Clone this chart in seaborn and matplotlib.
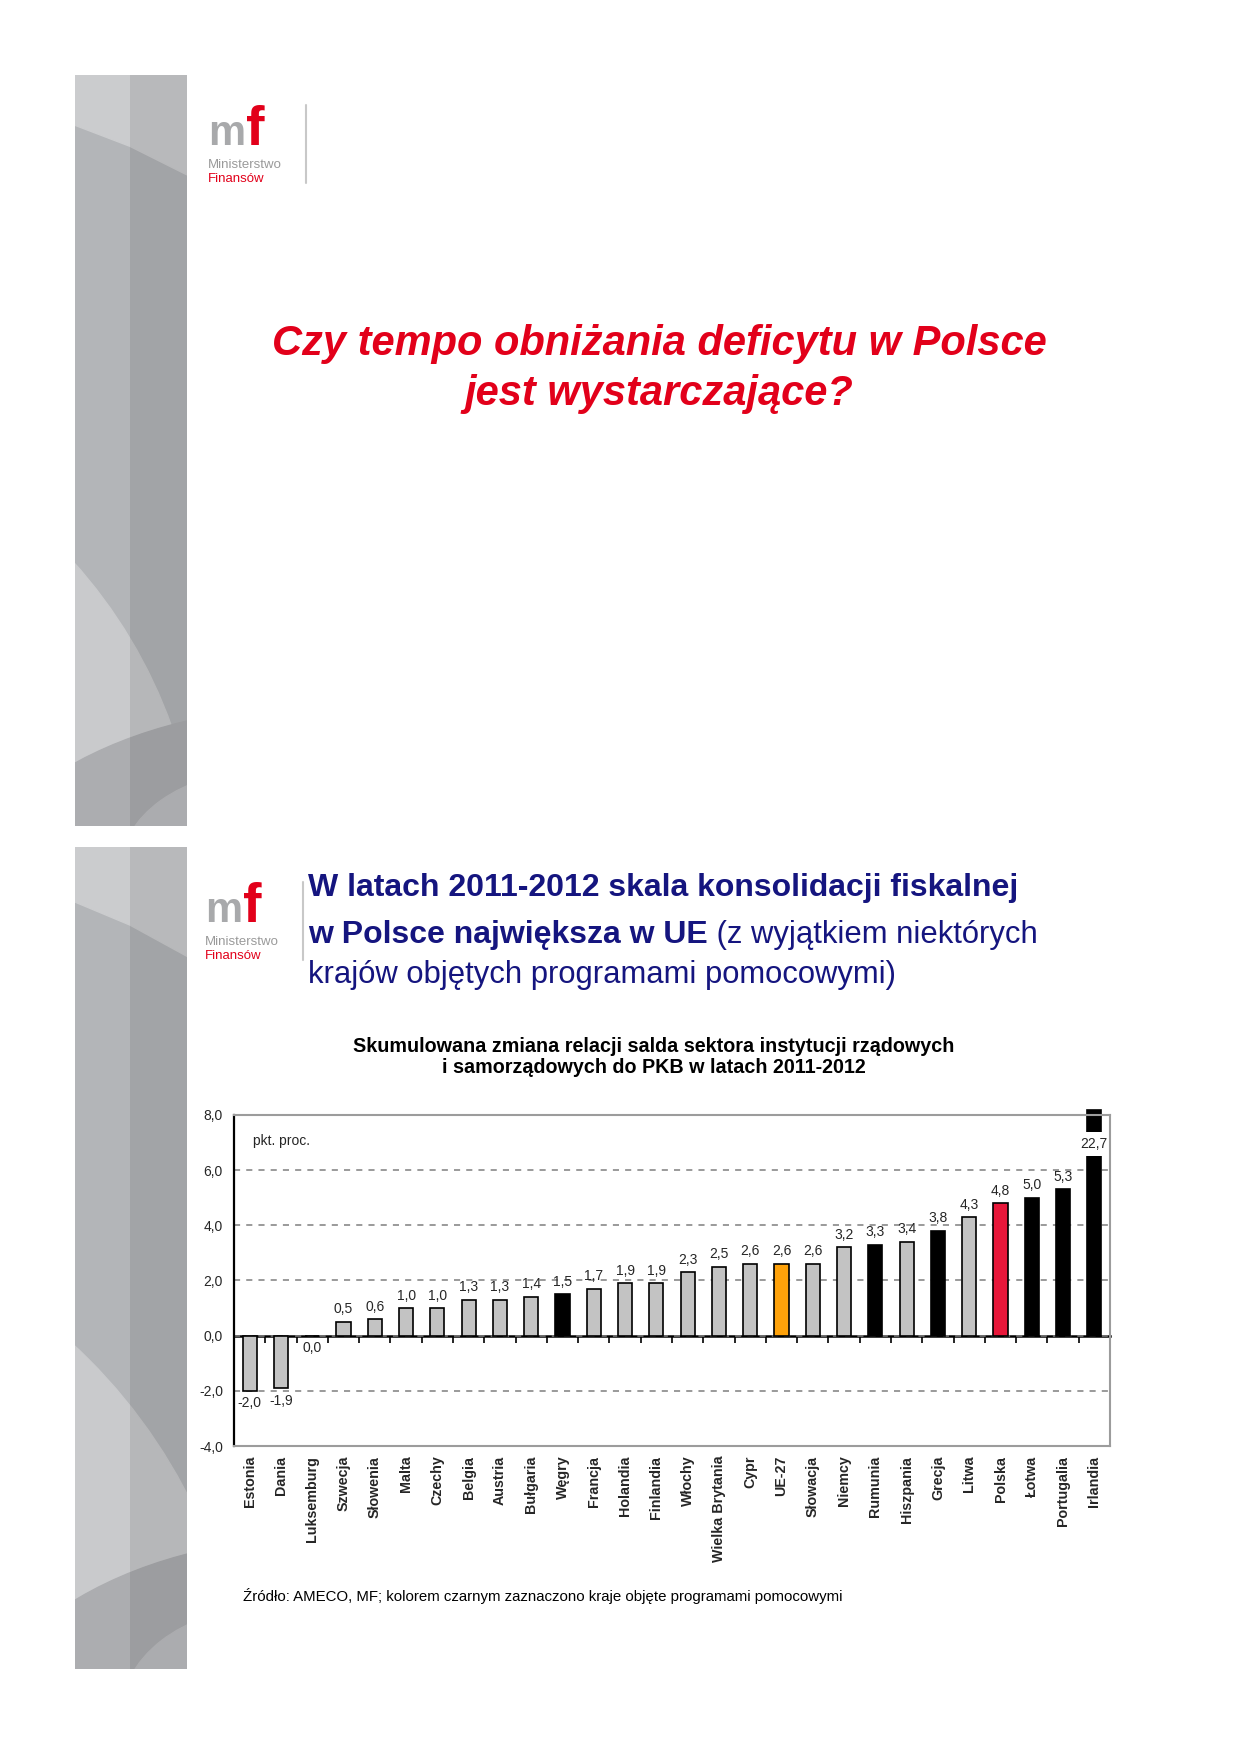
import matplotlib
matplotlib.use("Agg")
import matplotlib.pyplot as plt
import numpy as np
import pandas as pd
import seaborn as sns
from matplotlib.patches import Rectangle, Circle, Ellipse, Polygon

# --- data -------------------------------------------------------------
countries = [
    "Estonia", "Dania", "Luksemburg", "Szwecja", "Słowenia", "Malta",
    "Czechy", "Belgia", "Austria", "Bułgaria", "Węgry", "Francja",
    "Holandia", "Finlandia", "Włochy", "Wielka Brytania", "Cypr", "UE-27",
    "Słowacja", "Niemcy", "Rumunia", "Hiszpania", "Grecja", "Litwa",
    "Polska", "Łotwa", "Portugalia", "Irlandia",
]
values = [
    -2.0, -1.9, 0.0, 0.5, 0.6, 1.0, 1.0, 1.3, 1.3, 1.4, 1.5, 1.7, 1.9, 1.9,
    2.3, 2.5, 2.6, 2.6, 2.6, 3.2, 3.3, 3.4, 3.8, 4.3, 4.8, 5.0, 5.3, 22.7,
]
program_countries = ["Węgry", "Rumunia", "Grecja", "Łotwa", "Portugalia", "Irlandia"]
y_ticks = [-4, -2, 0, 2, 4, 6, 8]

slide1_title = ["Czy tempo obniżania deficytu w Polsce", "jest wystarczające?"]
heading_l1 = "W latach 2011-2012 skala konsolidacji fiskalnej"
heading_l2a = "w Polsce największa w UE"
heading_l2b = " (z wyjątkiem niektórych"
heading_l3 = "krajów objętych programami pomocowymi)"
chart_title = ("Skumulowana zmiana relacji salda sektora instytucji rządowych\n"
               "i samorządowych do PKB w latach 2011-2012")
unit_label = "pkt. proc."
source_note = ("Źródło: AMECO, MF; kolorem czarnym zaznaczono kraje objęte "
               "programami pomocowymi")

df = pd.DataFrame({"kraj": countries, "zmiana": values})


def bar_color(c):
    if c == "Polska":
        return "#e8173a"
    if c == "UE-27":
        return "#ffa20a"
    if c in program_countries:
        return "black"
    return "#c3c3c3"


palette = {c: bar_color(c) for c in countries}


def pl_num(v):
    return f"{v:.1f}".replace(".", ",")


# --- figure -----------------------------------------------------------
sns.set_style("white")
plt.rcParams["font.family"] = ["Liberation Sans", "DejaVu Sans"]

W, H = 1240, 1754
fig = plt.figure(figsize=(W / 100, H / 100), dpi=100)
fig.patch.set_facecolor("white")

# background layer in pixel coordinates
bg = fig.add_axes([0, 0, 1, 1])
bg.set_xlim(0, W)
bg.set_ylim(H, 0)
bg.axis("off")


def draw_strip(y0, y1):
    x0, xm, x1 = 75, 130, 187
    h = y1 - y0
    clip = Rectangle((x0, y0), x1 - x0, h, transform=bg.transData)
    parts = [
        Rectangle((x0, y0), x1 - x0, h, color="#b3b5b8"),
        Polygon([(x0, y0), (x1, y0), (x1, y0 + 0.133 * h), (xm, y0 + 0.095 * h),
                 (x0, y0 + 0.067 * h)], closed=True, color="#cbccce"),
        Circle((x0 - 370, y0 + 1.09 * h), 0.66 * h, color="#c9cacc"),
        Ellipse((x1 + 133, y0 + 1.125 * h), 720, 0.57 * h, color="#acadb0"),
        Ellipse((x1 + 73, y0 + 1.06 * h), 280, 0.266 * h, color="#bdbec1"),
    ]
    for p in parts:
        bg.add_patch(p)
        p.set_clip_path(clip)
    # the right column is a shade darker
    bg.add_patch(Rectangle((xm, y0), x1 - xm, h, color="black", alpha=0.09, lw=0))


def draw_logo(x, y):
    bg.text(x, y + 40, "m", color="#a8a9ab", fontsize=30, fontweight="bold",
            va="baseline", ha="left")
    bg.text(x + 38, y + 40, "f", color="#e2001a", fontsize=40, fontweight="bold",
            va="baseline", ha="left")
    bg.text(x, y + 60, "Ministerstwo", color="#9a9a9a", fontsize=9.5,
            va="center", ha="left")
    bg.text(x, y + 74, "Finansów", color="#e2001a", fontsize=9.5,
            va="center", ha="left")
    bg.plot([x + 98, x + 98], [y, y + 78], color="#c8c8c8", lw=1.5)


# slide 1
draw_strip(75, 826)
draw_logo(208, 105)
bg.text(659, 344, slide1_title[0], color="#e2001a", fontsize=30,
        fontweight="bold", fontstyle="italic", ha="center", va="center")
bg.text(659, 394, slide1_title[1], color="#e2001a", fontsize=30,
        fontweight="bold", fontstyle="italic", ha="center", va="center")

# slide 2
draw_strip(847, 1669)
draw_logo(205, 882)
navy = "#15157f"
bg.text(308, 888, heading_l1, color=navy, fontsize=23, fontweight="bold",
        ha="left", va="center")
t2 = bg.text(308, 935, heading_l2a, color=navy, fontsize=23, fontweight="bold",
             ha="left", va="center")
bg.annotate(heading_l2b, xy=(1, 0.5), xycoords=t2, color=navy, fontsize=22.3,
            ha="left", va="center")
bg.text(308, 975, heading_l3, color=navy, fontsize=22.3, ha="left", va="center")
bg.text(654, 1057, chart_title, color="black", fontsize=14.2, fontweight="bold",
        ha="center", va="center", linespacing=1.15)
bg.text(243, 1596, source_note, color="black", fontsize=10.8,
        ha="left", va="center")

# --- bar chart --------------------------------------------------------
ax = fig.add_axes([234 / W, 1 - 1446 / H, 876 / W, 331 / H])
sns.barplot(data=df, x="kraj", y="zmiana", hue="kraj", palette=palette,
            legend=False, width=0.45, edgecolor="black", linewidth=1.2,
            saturation=1, ax=ax)

ymin, ymax = y_ticks[0], y_ticks[-1]
ax.set_ylim(ymin, ymax)
ax.set_xlim(-0.5, len(countries) - 0.5)
ax.set_yticks(y_ticks)
ax.set_yticklabels([pl_num(v) for v in y_ticks], fontsize=10)
ax.set_xlabel("")
ax.set_ylabel("")
ax.tick_params(axis="x", length=0, pad=7, labelsize=10.3, labelrotation=90)
for lab in ax.get_xticklabels():
    lab.set_fontweight("bold")
ax.tick_params(axis="y", direction="out", length=5, width=1.2, color="black",
               pad=3)

ax.set_axisbelow(True)
ax.yaxis.grid(True, color="#7f7f7f", linestyle=(0, (4, 4)), linewidth=1.1)
ax.xaxis.grid(False)
for side in ["top", "right", "bottom"]:
    ax.spines[side].set_color("#9c9c9c")
    ax.spines[side].set_linewidth(1.5)
    ax.spines[side].set_visible(True)
ax.spines["left"].set_color("black")
ax.spines["left"].set_linewidth(1.6)

# zero line with category separators
zero = ax.secondary_xaxis((0 - ymin) / (ymax - ymin))
zero.set_xticks(np.arange(len(countries) + 1) - 0.5)
zero.set_xticklabels([])
zero.tick_params(direction="out", length=5, width=1.2, color="black")
zero.spines["bottom"].set_linewidth(1.8)
zero.spines["bottom"].set_color("black")

ax.text(0.022, 0.92, unit_label, transform=ax.transAxes, fontsize=10,
        ha="left", va="center")

# value labels and the broken bar for the outlier
for bar, v in zip(ax.patches, values):
    cx = bar.get_x() + bar.get_width() / 2
    if v > ymax:
        bar.set_height(ymax + 0.18)
        bar.set_clip_on(False)
        gap_lo, gap_hi = ymax - 1.5, ymax - 0.62
        ax.add_patch(Rectangle((bar.get_x() - 0.1, gap_lo), bar.get_width() + 0.2,
                               gap_hi - gap_lo, facecolor="white", edgecolor="none",
                               zorder=bar.get_zorder() + 1, clip_on=False))
        ax.text(cx, (gap_lo + gap_hi) / 2, pl_num(v), ha="center", va="center",
                fontsize=10, zorder=bar.get_zorder() + 2)
    elif v > 0:
        ax.annotate(pl_num(v), (cx, v), xytext=(0, 4), textcoords="offset points",
                    ha="center", va="bottom", fontsize=10)
    else:
        ax.annotate(pl_num(v), (cx, v), xytext=(0, -4), textcoords="offset points",
                    ha="center", va="top", fontsize=10)

fig.savefig("out.png", dpi=100, facecolor="white")
